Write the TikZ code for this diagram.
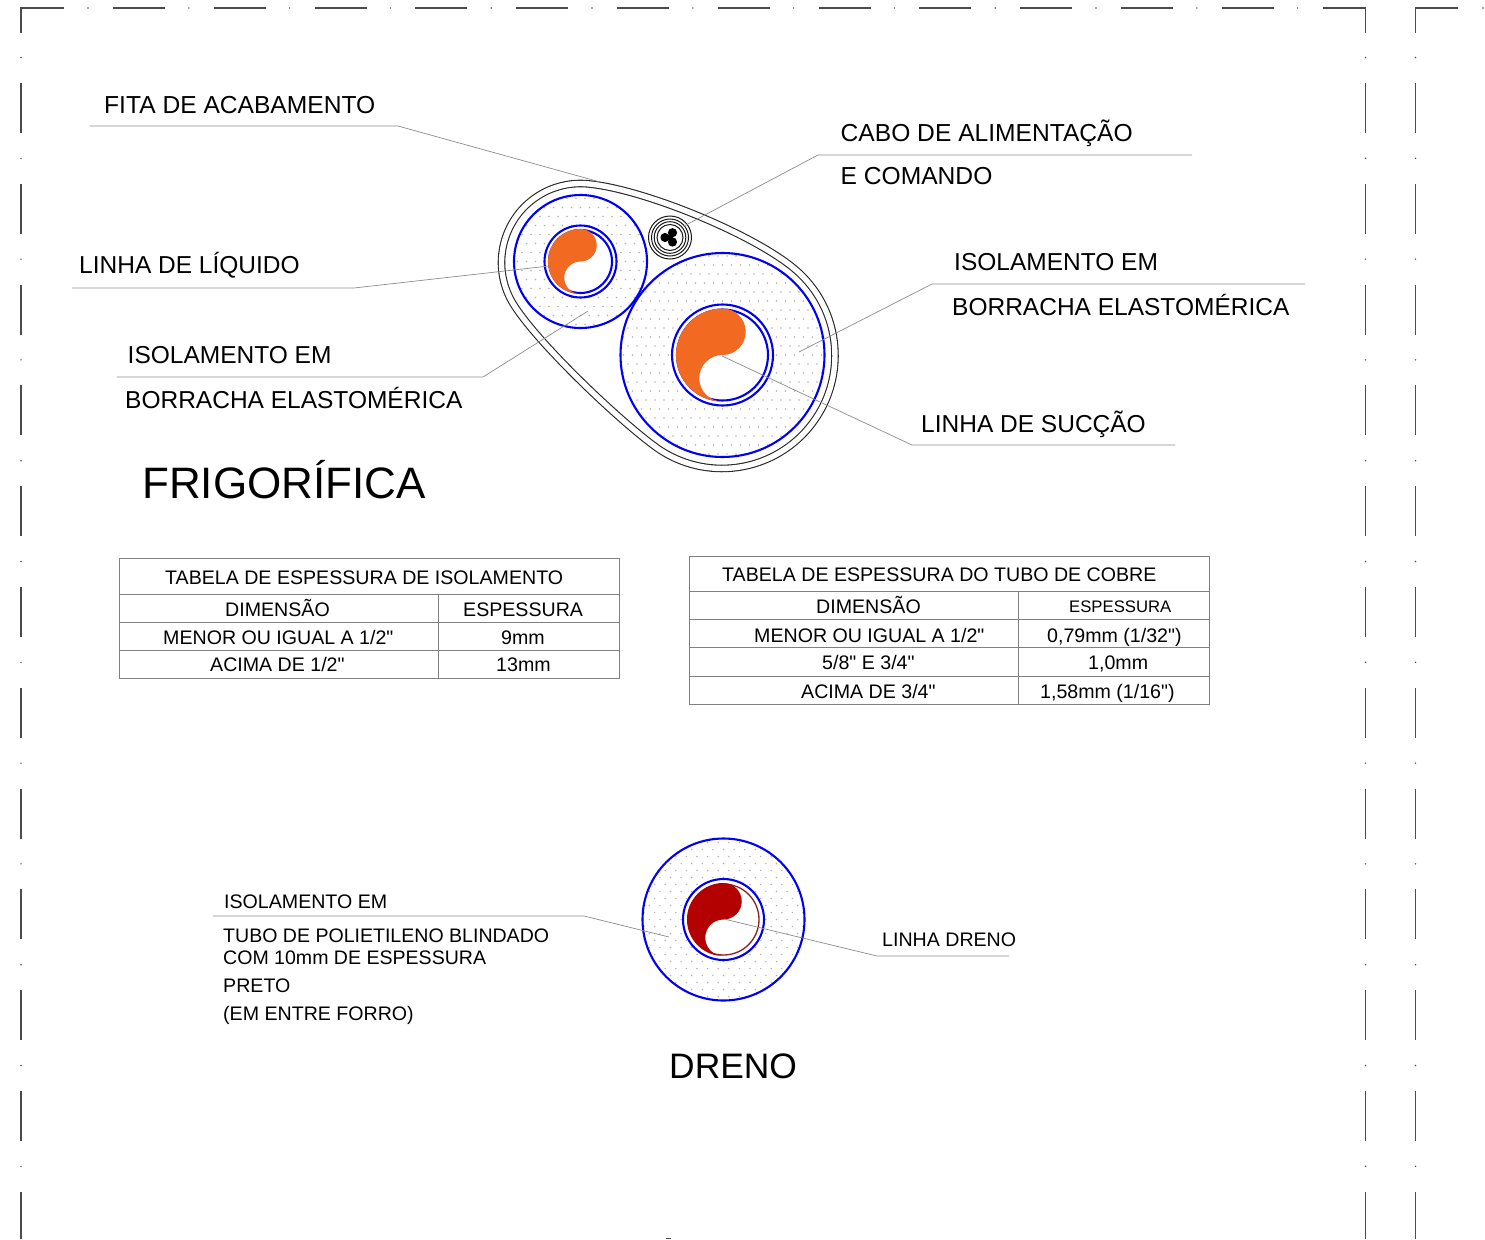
\documentclass[tikz,border=0pt]{standalone}
\usepackage{fontspec}
\setmainfont{Liberation Sans}[Ligatures=TeXOff]
\definecolor{tubeorange}{HTML}{F26A22}
\definecolor{draincolor}{HTML}{B30000}
\definecolor{drainline}{HTML}{8E2020}
\tikzset{
	lbl/.style={anchor=base west, inner sep=0pt, font=\fontsize{#1}{#1}\selectfont, text=black},
	lead/.style={draw=black!45, line width=0.7pt},
	sheath/.style={draw=black!85, line width=1.1pt, double=white, double distance=5.4pt},
	blueline/.style={draw=blue!95!black, line width=2.1pt},
	grid line/.style={draw=black!50, line width=0.7pt},
	frame/.style={draw=black!70, line width=1.3pt},
	speck/.style={fill=black!30},
}
% two lobed half circle filling a tube
\newcommand{\tubefill}[4]{%
	\fill[#4] (#1, #2) ++(0, -#3) arc[start angle=-90, delta angle=180, radius=#3/2]
		arc[start angle=-90, delta angle=-180, radius=#3/2]
		arc[start angle=90, delta angle=180, radius=#3] -- cycle;
}
% speckled ring of insulation
\newcommand{\speckring}[6]{%
	\begin{scope}
		\clip (#1, #2) circle[radius=#3];
		\foreach \i in {-12, ..., 12} {
			\foreach \j in {-15, ..., 15} {
				\pgfmathsetmacro{\dx}{(\i + 0.5*mod(abs(\j), 2))*#5}
				\fill[speck] ({#1 + \dx}, {#2 + \j*#6}) circle[radius=0.8];
			}
		}
	\end{scope}
	\fill[white] (#1, #2) circle[radius=#4];
}
\begin{document}
\begin{tikzpicture}[x=1pt, y=-1pt]
	\useasboundingbox (0, 0) rectangle (1485, 1239);
	% sheet border
	\foreach \k in {0, ..., 11} {
		\draw[frame] ({113 + \k*100.8}, 8) -- ({165 + \k*100.8}, 8);
	}
	\foreach \k in {0, ..., 12} {
		\fill[black!70] ({88 + \k*100.8}, 8) circle[radius=0.8];
	}
	\draw[frame] (64, 8) -- (21, 8) -- (21, 33);
	\draw[frame] (1323, 8) -- (1365.5, 8) -- (1365.5, 33);
	\draw[frame] (1458, 8) -- (1415.5, 8) -- (1415.5, 33);
	\fill[black!70] (1483, 8) circle[radius=0.8];
	\foreach \xx in {21, 1365.5, 1415.5} {
		\foreach \k in {0, ..., 10} {
			\draw[frame] (\xx, {83 + \k*100.8}) -- (\xx, {133 + \k*100.8});
		}
		\foreach \k in {0, ..., 11} {
			\fill[black!70] (\xx, {57.5 + \k*100.8}) circle[radius=0.8];
		}
		\draw[frame] (\xx, 1192) -- (\xx, 1239);
	}
	\draw[frame] (666, 1238.3) -- (671, 1238.3);

	% cable bundle
	\draw[sheath] (794.6, 268.9) arc[start angle=-50, delta angle=175, radius=113]
		.. controls (620.3, 421.8) and (534.6, 340.5) .. (512.1, 302)
		arc[start angle=150, delta angle=125, radius=79]
		.. controls (642.2, 188.6) and (752.5, 233.5) .. (794.6, 268.9) -- cycle;
	\speckring{580.5}{261.5}{66.5}{36}{9}{9}
	\speckring{722.5}{355}{102}{50.5}{9}{9}
	\draw[blueline] (580.5, 261.5) circle[radius=66.5];
	\draw[blueline] (722.5, 355) circle[radius=102];
	\draw[blueline] (580.5, 261.5) circle[radius=36];
	\draw[blueline] (580.5, 261.5) circle[radius=31.5];
	\draw[blueline] (722.5, 355) circle[radius=50.5];
	\draw[blueline] (722.5, 355) circle[radius=45.5];
	\tubefill{580.5}{261.5}{32.5}{tubeorange}
	\tubefill{722.5}{355}{46.5}{tubeorange}

	% control cable
	\foreach \rr in {21.5, 18.5, 15.8, 13} {
		\draw[black!90, line width=1pt] (670, 237.5) circle[radius=\rr];
	}
	\fill[black] (665, 237.5) circle[radius=4.6];
	\fill[black] (672.5, 232.7) circle[radius=4.6];
	\fill[black] (672.5, 242) circle[radius=4.6];
	\fill[black] (670, 237.5) circle[radius=3];

	% drain
	\speckring{723.5}{919.5}{81}{40.5}{10.6}{7}
	\draw[blueline] (723.5, 919.5) circle[radius=81];
	\draw[blueline] (723.5, 919.5) circle[radius=40.5];
	\draw[drainline, line width=1.3pt] (723.5, 919.5) circle[radius=35.5];
	\tubefill{723.5}{919.5}{36.5}{draincolor}

	% titles
	\node[lbl=44] (frigo) at (142, 498.5) {FRIGORÍFICA};
	\node[lbl=35.4] (dreno) at (669, 1078) {DRENO};

	% labels and leaders
	\node[lbl=24.6] (fita) at (104, 113) {FITA DE ACABAMENTO};
	\coordinate (fitaA) at (90, 126);
	\coordinate (fitaB) at (398, 126);
	\coordinate (fitaC) at (600, 182);
	\draw[lead] (fitaA) -- (fitaB) -- (fitaC);

	\node[lbl=24.6] (cabo) at (840.5, 141) {CABO DE ALIMENTAÇÃO};
	\node[lbl=24.6] (cabob) at (840.5, 184) {E COMANDO};
	\coordinate (caboA) at (1192, 155);
	\coordinate (caboB) at (818, 155);
	\coordinate (caboC) at (684, 226);
	\draw[lead] (caboA) -- (caboB) -- (caboC);

	\node[lbl=24.5] (liquido) at (79, 273) {LINHA DE LÍQUIDO};
	\coordinate (liqA) at (72, 288);
	\coordinate (liqB) at (354, 288);
	\coordinate (liqC) at (549, 266);
	\draw[lead] (liqA) -- (liqB) -- (liqC);

	\node[lbl=24.5] (isoa) at (127.5, 363) {ISOLAMENTO EM};
	\node[lbl=24.5] (isob) at (125, 408) {BORRACHA ELASTOMÉRICA};
	\coordinate (isoA) at (117, 377);
	\coordinate (isoB) at (483, 377);
	\coordinate (isoC) at (588, 311);
	\draw[lead] (isoA) -- (isoB) -- (isoC);

	\node[lbl=24.5] (isoc) at (954, 270) {ISOLAMENTO EM};
	\node[lbl=24.5] (isod) at (952, 315) {BORRACHA ELASTOMÉRICA};
	\coordinate (isoD) at (1305, 284);
	\coordinate (isoE) at (932, 284);
	\coordinate (isoF) at (799, 352);
	\draw[lead] (isoD) -- (isoE) -- (isoF);

	\node[lbl=24.5] (succao) at (921, 432) {LINHA DE SUCÇÃO};
	\coordinate (sucA) at (1175, 445);
	\coordinate (sucB) at (912, 445);
	\coordinate (sucC) at (722, 356);
	\draw[lead] (sucA) -- (sucB) -- (sucC);

	\node[lbl=19.6] (isoe) at (224, 908) {ISOLAMENTO EM};
	\node[lbl=19.55] (tuboa) at (223, 942) {TUBO DE POLIETILENO BLINDADO};
	\node[lbl=19.55] (tubob) at (223, 964) {COM 10mm DE ESPESSURA};
	\node[lbl=19.6] (tuboc) at (223, 992) {PRETO};
	\node[lbl=19.6] (tubod) at (223, 1020) {(EM ENTRE FORRO)};
	\coordinate (droA) at (213, 916);
	\coordinate (droB) at (584, 916);
	\coordinate (droC) at (669, 937);
	\draw[lead] (droA) -- (droB) -- (droC);

	\node[lbl=19.6] (linhad) at (882, 946) {LINHA DRENO};
	\coordinate (lidA) at (1009, 956);
	\coordinate (lidB) at (877, 956);
	\coordinate (lidC) at (724, 919);
	\draw[lead] (lidA) -- (lidB) -- (lidC);

	% insulation table
	\draw[grid line] (119.7, 558.7) rectangle (619, 678.7);
	\foreach \yy in {594.7, 622.7, 650.7} {
		\draw[grid line] (119.7, \yy) -- (619, \yy);
	}
	\draw[grid line] (438.7, 594.7) -- (438.7, 678.7);
	\node[lbl=19.6] (ta) at (165, 584) {TABELA DE ESPESSURA DE ISOLAMENTO};
	\node[lbl=19.6] (tb) at (225, 616) {DIMENSÃO};
	\node[lbl=19.6] (tc) at (463, 616) {ESPESSURA};
	\node[lbl=19.6] (td) at (163, 644) {MENOR OU IGUAL A 1/2"};
	\node[lbl=19.6] (te) at (501, 644) {9mm};
	\node[lbl=19.6] (tf) at (210, 671) {ACIMA DE 1/2"};
	\node[lbl=19.6] (tg) at (496, 671) {13mm};

	% copper tube table
	\draw[grid line] (689.7, 556.7) rectangle (1209.7, 704.7);
	\foreach \yy in {591.7, 619.7, 647.7, 676.7} {
		\draw[grid line] (689.7, \yy) -- (1209.7, \yy);
	}
	\draw[grid line] (1018.7, 591.7) -- (1018.7, 704.7);
	\node[lbl=19.6] (ua) at (722, 581) {TABELA DE ESPESSURA DO TUBO DE COBRE};
	\node[lbl=19.6] (ub) at (816, 613) {DIMENSÃO};
	\node[lbl=16.7] (uc) at (1069, 612) {ESPESSURA};
	\node[lbl=19.6] (ud) at (754, 642) {MENOR OU IGUAL A 1/2"};
	\node[lbl=19.6] (ue) at (1047, 642) {0,79mm (1/32")};
	\node[lbl=19.6] (uf) at (822, 669) {5/8" E 3/4"};
	\node[lbl=19.6] (ug) at (1088, 669) {1,0mm};
	\node[lbl=19.6] (uh) at (801, 698) {ACIMA DE 3/4"};
	\node[lbl=19.6] (ui) at (1040, 698) {1,58mm (1/16")};
\end{tikzpicture}
\end{document}
